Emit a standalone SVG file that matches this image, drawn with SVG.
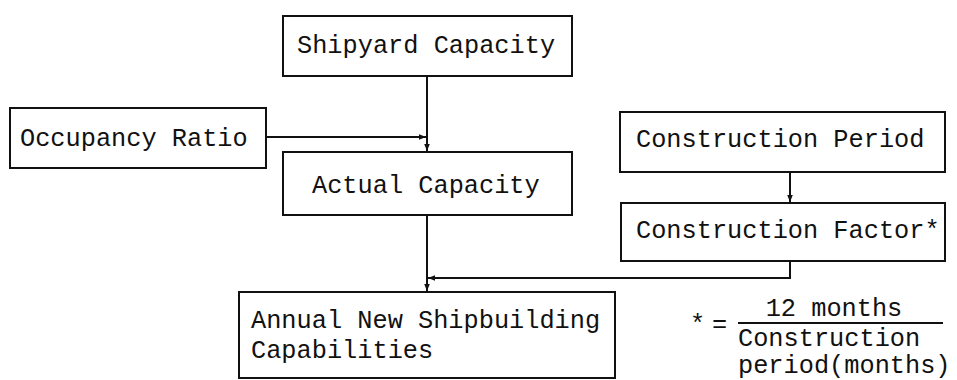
<svg xmlns="http://www.w3.org/2000/svg" width="957" height="380" viewBox="0 0 957 380">
  <style>
    .box { fill: #fff; stroke: #111; stroke-width: 2; }
    .lbl { font-family: "Liberation Mono", "DejaVu Sans Mono", monospace; font-size: 25.3px; fill: #111; }
    .wire { fill: none; stroke: #111; stroke-width: 2; }
  </style>
  <defs>
    <marker id="head" viewBox="0 0 10 10" refX="10" refY="5" markerWidth="7" markerHeight="7" markerUnits="userSpaceOnUse" orient="auto">
      <path d="M0,1 L10,5 L0,9 z" fill="#111"/>
    </marker>
  </defs>
  <rect width="957" height="380" fill="#fff"/>

  <g id="connectors">
    <path class="wire" d="M427,76 V151" marker-end="url(#head)"/>
    <path class="wire" d="M266,137 H426" marker-end="url(#head)"/>
    <path class="wire" d="M790,172 V202" marker-end="url(#head)"/>
    <path class="wire" d="M427,215 V291" marker-end="url(#head)"/>
    <path class="wire" d="M790,261 V278 H428" marker-end="url(#head)"/>
  </g>

  <g id="shipyard-capacity">
    <rect class="box" x="283" y="16" width="289" height="60"/>
    <text class="lbl" x="297" y="53">Shipyard Capacity</text>
  </g>
  <g id="occupancy-ratio">
    <rect class="box" x="10" y="108" width="256" height="60"/>
    <text class="lbl" x="20" y="146">Occupancy Ratio</text>
  </g>
  <g id="actual-capacity">
    <rect class="box" x="283" y="152" width="289" height="63"/>
    <text class="lbl" x="312" y="193">Actual Capacity</text>
  </g>
  <g id="construction-period">
    <rect class="box" x="620" y="112" width="325" height="60"/>
    <text class="lbl" x="636" y="147">Construction Period</text>
  </g>
  <g id="construction-factor">
    <rect class="box" x="621" y="203" width="324" height="58"/>
    <text class="lbl" x="636" y="238">Construction Factor*</text>
  </g>
  <g id="annual-capabilities">
    <rect class="box" x="239" y="292" width="376" height="86"/>
    <text class="lbl" x="251" y="328">Annual New Shipbuilding</text>
    <text class="lbl" x="251" y="358">Capabilities</text>
  </g>

  <g id="factor-definition">
    <text class="lbl" x="690" y="332">*</text>
    <text class="lbl" x="712" y="332">=</text>
    <text class="lbl" x="834" y="316" text-anchor="middle">12 months</text>
    <line class="wire" x1="738" y1="323" x2="943" y2="323"/>
    <text class="lbl" x="738" y="346">Construction</text>
    <text class="lbl" x="738" y="373">period(months)</text>
  </g>
</svg>
